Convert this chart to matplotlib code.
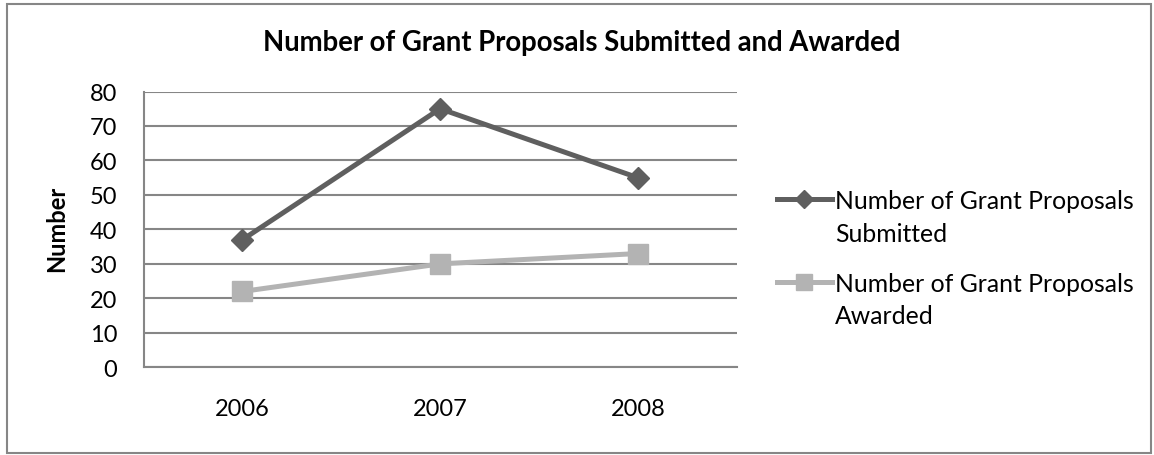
import matplotlib
matplotlib.use("Agg")
import matplotlib.pyplot as plt
from matplotlib.patches import Rectangle
from matplotlib.legend_handler import HandlerLine2D

years = ["2006", "2007", "2008"]
submitted = [37, 75, 55]
awarded = [22, 30, 33]
yticks = [0, 10, 20, 30, 40, 50, 60, 70, 80]
title = "Number of Grant Proposals Submitted and Awarded"
ylabel = "Number"
labels = ["Number of Grant Proposals\nSubmitted", "Number of Grant Proposals\nAwarded"]

plt.rcParams['font.family'] = ['Lato', 'DejaVu Sans']


class TopHandler(HandlerLine2D):
    """Place the legend handle level with the first line of a two-line label."""
    def create_artists(self, legend, orig_handle, xdescent, ydescent, width,
                       height, fontsize, trans):
        return super().create_artists(legend, orig_handle, xdescent,
                                      ydescent - 1.5 * fontsize, width, height,
                                      fontsize, trans)


fig = plt.figure(figsize=(11.54, 4.56), dpi=100)
ax = fig.add_axes([143.5/1154, 1-368.3/456, (736.7-143.5)/1154, (368.3-92.5)/456])

x = list(range(len(years)))
l1, = ax.plot(x, submitted, color="#5f5f5f", lw=3.6, marker="D", markersize=11,
              label=labels[0], solid_joinstyle="miter")
l2, = ax.plot(x, awarded, color="#b3b3b3", lw=3.6, marker="s", markersize=14,
              label=labels[1])

ax.set_xlim(-0.5, 2.5)
ax.set_ylim(0, 80)
ax.set_yticks(yticks)
ax.set_xticks(x)
ax.set_xticklabels(years)
ax.tick_params(axis='both', length=0, labelsize=17, colors='black')
ax.tick_params(axis='y', pad=19)
ax.tick_params(axis='x', pad=22)
ax.grid(axis='y', color='#868686', lw=1.5)
ax.set_axisbelow(True)
for s in ['top', 'right']:
    ax.spines[s].set_visible(False)
ax.spines['left'].set_color('#868686')
ax.spines['left'].set_linewidth(1.5)
ax.spines['bottom'].set_color('#868686')
ax.spines['bottom'].set_linewidth(1.5)

ax.set_ylabel(ylabel, fontsize=17, fontweight='bold')
ax.yaxis.set_label_coords(68/1154, 1-229/456, transform=fig.transFigure)
fig.text(582/1154, 1-43/456, title, ha='center', va='center', fontsize=19.8, fontweight='bold')

leg = ax.legend(loc='upper left', bbox_to_anchor=(755/1154, 1-168/456),
                bbox_transform=fig.transFigure, frameon=False, fontsize=17.8,
                handlelength=2.2, handletextpad=0.15, labelspacing=1.1,
                handler_map={l1: TopHandler(), l2: TopHandler()})
for t in leg.get_texts():
    t.set_linespacing(1.5)
for h in leg.legend_handles:
    h.set_markersize(9 if h.get_marker() == "D" else 12)

fig.patches.append(Rectangle((7/1154, 1-454/456), (1151-7)/1154, (454-5)/456,
                             transform=fig.transFigure, fill=False,
                             edgecolor='#868686', lw=1.5))

fig.savefig("out.png", dpi=100)
